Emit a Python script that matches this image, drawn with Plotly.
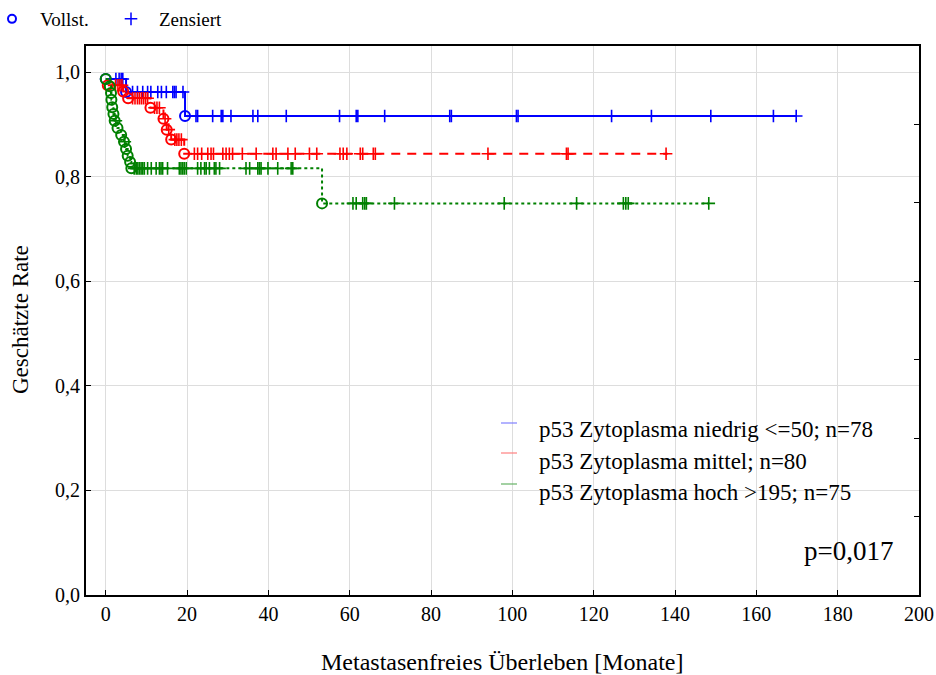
import plotly.graph_objects as go

# ---------------- data ----------------
# Blue: p53 Zytoplasma niedrig <=50; n=78
blue_event_t = [0.0, 5.0, 19.5]
blue_event_s = [0.987, 0.962, 0.916]
blue_end_t = 169.8
blue_cens_t = [2.5, 3.3, 3.8, 4.2,
               6.6, 7.8, 9.1, 10.3, 11.1, 12.8, 13.7, 14.9, 16.5, 16.9, 17.3, 19.0,
               22.2, 22.6, 26.3, 28.4, 28.8, 30.8, 36.2, 37.4, 44.4, 57.5, 61.6, 62.0,
               68.6, 84.6, 85.0, 101.0, 101.4, 124.4, 134.2, 148.8, 164.2, 169.8]

# Red: p53 Zytoplasma mittel; n=80
red_event_t = [0.5, 4.3, 5.5, 11.0, 14.2, 15.0, 16.1, 19.3]
red_event_s = [0.975, 0.963, 0.950, 0.932, 0.911, 0.890, 0.871, 0.844]
red_end_t = 138.2
red_cens_t = [2.4, 3.0, 3.5, 4.0,
              6.6, 7.2, 7.8, 8.3, 8.8, 9.3, 9.8, 10.3,
              12.0, 12.6, 13.2, 14.6, 15.5, 17.0, 17.5, 18.0, 18.6,
              21.8, 22.6, 23.6, 25.1, 25.9, 26.5, 28.8, 29.6, 30.4, 31.2, 33.6, 37.0,
              41.1, 41.9, 44.8, 46.6, 50.1, 51.9, 57.6, 58.4, 59.3, 62.6, 63.2, 65.8,
              66.3, 94.0, 113.3, 113.7, 137.8]

# Green: p53 Zytoplasma hoch >195; n=75
green_event_t = [0.0, 1.0, 1.3, 1.4, 1.6, 1.9, 2.2, 2.9, 3.8, 4.5, 5.0, 5.4, 6.0, 6.3, 53.2]
green_event_s = [0.987, 0.973, 0.960, 0.947, 0.933, 0.920, 0.907, 0.893, 0.880, 0.867,
                 0.853, 0.840, 0.828, 0.816, 0.749]
green_end_t = 148.3
green_cens_t = [2.5, 4.7,
                7.0, 7.5, 7.9, 8.3, 8.7, 9.1, 9.5, 10.3, 11.2, 12.4, 13.2, 13.6, 14.0, 15.2,
                18.1, 18.5, 18.9, 19.3, 19.8, 22.6, 23.4, 24.3, 24.7, 25.5, 26.7, 27.1,
                28.0, 34.5, 35.4, 37.4, 37.8, 38.2, 39.9, 42.3, 45.6, 46.0,
                60.8, 61.6, 63.2, 63.7, 64.1, 71.0, 98.0, 115.8, 127.3, 127.9, 128.5, 148.3]

series_names = ["p53 Zytoplasma niedrig <=50; n=78",
                "p53 Zytoplasma mittel; n=80",
                "p53 Zytoplasma hoch >195; n=75"]
x_ticks = [0, 20, 40, 60, 80, 100, 120, 140, 160, 180, 200]
y_ticks = [0.0, 0.2, 0.4, 0.6, 0.8, 1.0]
y_tick_labels = ["0,0", "0,2", "0,4", "0,6", "0,8", "1,0"]
x_title = "Metastasenfreies Überleben [Monate]"
y_title = "Geschätzte Rate"
p_text = "p=0,017"

SERIF = "Liberation Serif"


def step_value(ts, ss, t):
    v = ss[0]
    for ti, si in zip(ts, ss):
        if ti <= t:
            v = si
    return v


fig = go.Figure()

groups = [
    (blue_event_t, blue_event_s, blue_end_t, blue_cens_t, "#0000ff", "solid"),
    (red_event_t, red_event_s, red_end_t, red_cens_t, "#ff0000", "9px,7px"),
    (green_event_t, green_event_s, green_end_t, green_cens_t, "#008000", "dot"),
]

for (et, es, end_t, ct, col, dash), name in zip(groups, series_names):
    xs = list(et) + [end_t]
    ys = list(es) + [es[-1]]
    fig.add_trace(go.Scatter(x=xs, y=ys, mode="lines", line_shape="hv",
                             line=dict(color=col, width=2, dash=dash),
                             showlegend=False, name=name, hoverinfo="skip"))
    fig.add_trace(go.Scatter(x=ct, y=[step_value(et, es, t) for t in ct], mode="markers",
                             marker=dict(symbol="cross-thin-open", size=9, color=col,
                                         line=dict(color=col, width=1.6)),
                             showlegend=False, hoverinfo="skip"))
    fig.add_trace(go.Scatter(x=et, y=es, mode="markers",
                             marker=dict(symbol="circle-open", size=10, color=col,
                                         line=dict(color=col, width=2)),
                             showlegend=False, hoverinfo="skip"))

# legend entries (top-left)
fig.add_trace(go.Scatter(x=[None], y=[None], mode="markers", name="Vollst.",
                         marker=dict(symbol="circle-open", size=8, color="#0000ff",
                                     line=dict(color="#0000ff", width=2))))
fig.add_trace(go.Scatter(x=[None], y=[None], mode="markers", name="Zensiert",
                         marker=dict(symbol="cross-thin-open", size=9, color="#0000ff",
                                     line=dict(color="#0000ff", width=1.5))))

# invisible trace for the secondary (right) axis ticks
fig.add_trace(go.Scatter(x=[0], y=[0], yaxis="y2", mode="markers",
                         marker=dict(opacity=0), showlegend=False, hoverinfo="skip"))

L, R, T, B = 86, 17, 46, 80
W, H = 936, 675
pw, ph = W - L - R, H - T - B


def px(xp):
    return (xp - L) / pw


def py(yp):
    return (H - B - yp) / ph


shapes = [
    dict(type="rect", xref="paper", yref="paper", x0=px(492), x1=px(906), y0=py(580), y1=py(405),
         fillcolor="white", line=dict(width=0), layer="between"),
]
sample_cols = ["#8080ff", "#ff8080", "#66b366"]
sample_y = [423, 453, 484]
for c, yy in zip(sample_cols, sample_y):
    shapes.append(dict(type="line", xref="paper", yref="paper", x0=px(501), x1=px(517),
                       y0=py(yy), y1=py(yy), line=dict(color=c, width=1.2)))

annotations = []
text_y = [429, 461, 492]
for name, yy in zip(series_names, text_y):
    annotations.append(dict(xref="paper", yref="paper", x=px(537), y=py(yy), text=name,
                            showarrow=False, xanchor="left", yanchor="middle",
                            font=dict(family=SERIF, size=23, color="black")))
annotations.append(dict(xref="paper", yref="paper", x=px(895), y=py(551), text=p_text,
                        showarrow=False, xanchor="right", yanchor="middle",
                        font=dict(family=SERIF, size=27, color="black")))
annotations.append(dict(xref="paper", yref="paper", x=px(502), y=py(662), text=x_title,
                        showarrow=False, xanchor="center", yanchor="middle",
                        font=dict(family=SERIF, size=24, color="black")))
annotations.append(dict(xref="paper", yref="paper", x=px(20), y=py(320), text=y_title,
                        showarrow=False, xanchor="center", yanchor="middle", textangle=-90,
                        font=dict(family=SERIF, size=23, color="black")))

fig.update_layout(
    width=W, height=H,
    margin=dict(l=L, r=R, t=T, b=B, pad=0, autoexpand=False),
    paper_bgcolor="white", plot_bgcolor="white",
    font=dict(family=SERIF, color="black"),
    shapes=shapes,
    annotations=annotations,
    legend=dict(xref="paper", yref="paper", x=px(-16), y=py(0),
                xanchor="left", yanchor="top", orientation="h",
                font=dict(family=SERIF, size=19, color="black"),
                itemwidth=46, entrywidth=58, entrywidthmode="pixels",
                bgcolor="rgba(0,0,0,0)"),
    xaxis=dict(range=[-4.85, 200], tickvals=x_ticks, ticktext=[str(v) for v in x_ticks],
               ticks="inside", ticklen=5, tickcolor="black", tickwidth=1,
               showline=True, linecolor="black", linewidth=2, mirror=True,
               showgrid=True, gridcolor="#dddddd", gridwidth=1, zeroline=False,
               automargin=False,
               tickfont=dict(family=SERIF, size=20, color="black")),
    yaxis=dict(range=[0, 1.05], tickvals=y_ticks, ticktext=y_tick_labels,
               ticks="inside", ticklen=5, tickcolor="black", tickwidth=1,
               showline=True, linecolor="black", linewidth=2, mirror=True,
               showgrid=True, gridcolor="#dddddd", gridwidth=1, zeroline=False,
               automargin=False,
               tickfont=dict(family=SERIF, size=20, color="black")),
    yaxis2=dict(range=[0, 1.05], overlaying="y", side="right",
                tickvals=[0.15, 0.3, 0.45, 0.6, 0.75, 0.9], ticks="inside", ticklen=5,
                tickcolor="black", showticklabels=False, showgrid=False,
                showline=False, zeroline=False, automargin=False),
)

fig.write_html("out.html")
